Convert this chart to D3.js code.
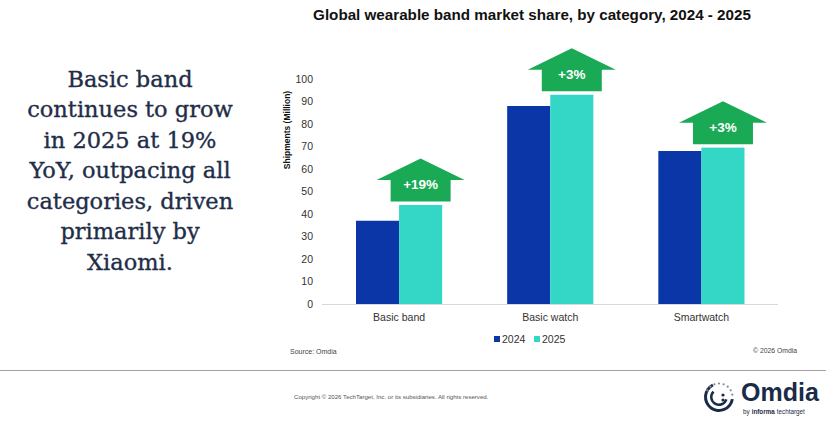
<!DOCTYPE html>
<html><head><meta charset="utf-8">
<script src="https://cdn.jsdelivr.net/npm/d3@7/dist/d3.min.js"></script>
<style>
html,body{margin:0;padding:0;background:#fff;}
svg{display:block;}
</style></head>
<body>
<script>
const categories = ["Basic band", "Basic watch", "Smartwatch"];
const series = ["2024", "2025"];
const values2024 = [37, 88, 68];
const values2025 = [44, 93, 69.5];
const growthLabels = ["+19%", "+3%", "+3%"];
const yTicks = [0, 10, 20, 30, 40, 50, 60, 70, 80, 90, 100];
const sideText = ["Basic band", "continues to grow", "in 2025 at 19%", "YoY, outpacing all", "categories, driven", "primarily by", "Xiaomi."];

const W = 835, H = 426;
const colors = {"2024": "#0a36a8", "2025": "#34d6c6"};
const green = "#1aa955";
const sans = "Liberation Sans, Arial, sans-serif";

const svg = d3.select("body").append("svg").attr("width", W).attr("height", H);

// Title
svg.append("text").attr("x", 532).attr("y", 20).attr("text-anchor", "middle")
  .attr("font-family", sans).attr("font-weight", "bold")
  .attr("font-size", 15.2).attr("fill", "#111")
  .text("Global wearable band market share, by category, 2024 - 2025");

// Side text
const st = svg.append("text").attr("font-family", "DejaVu Serif, serif").attr("font-size", 22.5)
  .attr("fill", "#1f2e48").attr("stroke", "#1f2e48").attr("stroke-width", 0.35).attr("text-anchor", "middle");
sideText.forEach((t, i) => {
  st.append("tspan").attr("x", 130).attr("y", 86.5 + i * 30.5).text(t);
});

// Scales
const x = d3.scaleBand().domain(categories).range([323.5, 777]).paddingInner(0.43).paddingOuter(0.215);
const xs = d3.scaleBand().domain(series).range([0, x.bandwidth()]);
const y = d3.scaleLinear().domain([0, 100]).range([304, 79]);

// Y axis ticks
const yAxis = d3.axisLeft(y).tickValues(yTicks).tickSize(0).tickPadding(0);
const gy = svg.append("g").attr("transform", "translate(313,0)").call(yAxis);
gy.select(".domain").remove();
gy.selectAll("text").attr("font-family", sans).attr("font-size", 10.5).attr("fill", "#333");

// Y title
svg.append("text").attr("transform", "translate(290,130) rotate(-90)").attr("text-anchor", "middle")
  .attr("font-family", sans).attr("font-weight", "bold")
  .attr("font-size", 8.5).attr("fill", "#111").text("Shipments (Million)");

// Baseline
svg.append("line").attr("x1", 322).attr("x2", 778).attr("y1", y(0) + 0.5).attr("y2", y(0) + 0.5)
  .attr("stroke", "#d9d9d9").attr("stroke-width", 1);

// Bars
const data = categories.map((c, i) => ({cat: c, vals: [{s: "2024", v: values2024[i]}, {s: "2025", v: values2025[i]}], g: growthLabels[i]}));
const groups = svg.append("g").selectAll("g").data(data).join("g")
  .attr("transform", d => `translate(${x(d.cat)},0)`);
groups.selectAll("rect").data(d => d.vals).join("rect")
  .attr("x", d => xs(d.s)).attr("width", xs.bandwidth())
  .attr("y", d => y(d.v)).attr("height", d => y(0) - y(d.v))
  .attr("fill", d => colors[d.s]);

// X axis labels
const xAxis = d3.axisBottom(x).tickSize(0).tickPadding(0);
const gx = svg.append("g").attr("transform", `translate(0,${y(0) + 9.5})`).call(xAxis);
gx.select(".domain").remove();
gx.selectAll("text").attr("font-family", sans).attr("font-size", 10.5).attr("fill", "#333");

// Growth arrows
const headW = 88, shaftW = 60, headH = 21.5, shaftH = 21.5, gap = 3.5;
data.forEach(d => {
  const v = d.vals[1].v;
  const cx = x(d.cat) + xs("2025") + xs.bandwidth() / 2;
  const bottom = y(v) - gap;
  const top = bottom - shaftH - headH;
  const hb = bottom - shaftH;
  const pts = [[cx, top], [cx + headW / 2, hb], [cx + shaftW / 2, hb], [cx + shaftW / 2, bottom],
    [cx - shaftW / 2, bottom], [cx - shaftW / 2, hb], [cx - headW / 2, hb]];
  svg.append("path").attr("d", d3.line()(pts) + "Z").attr("fill", green);
  svg.append("text").attr("x", cx).attr("y", hb + 9).attr("text-anchor", "middle")
    .attr("font-family", sans).attr("font-weight", "bold")
    .attr("font-size", 13.5).attr("fill", "#fff").text(d.g);
});

// Legend
const leg = svg.append("g").attr("font-family", sans).attr("font-size", 10.5).attr("fill", "#333");
[[494, "2024"], [534, "2025"]].forEach(([lx, s]) => {
  leg.append("rect").attr("x", lx).attr("y", 336).attr("width", 6).attr("height", 6).attr("fill", colors[s]);
  leg.append("text").attr("x", lx + 8).attr("y", 343).text(s);
});

// Source / copyright
svg.append("text").attr("x", 290).attr("y", 354).attr("font-family", sans)
  .attr("font-size", 7).attr("fill", "#444").text("Source: Omdia");
svg.append("text").attr("x", 797).attr("y", 353).attr("text-anchor", "end").attr("font-family", sans)
  .attr("font-size", 6.8).attr("fill", "#444").text("© 2026 Omdia");

svg.append("line").attr("x1", 0).attr("x2", 826).attr("y1", 370.5).attr("y2", 370.5).attr("stroke", "#a0a0a0").attr("stroke-width", 1);

svg.append("text").attr("x", 294).attr("y", 399).attr("font-family", sans)
  .attr("font-size", 6.1).attr("fill", "#555")
  .text("Copyright © 2026 TechTarget, Inc. or its subsidiaries. All rights reserved.");

// Omdia logo
const logo = svg.append("g").attr("transform", "translate(719,397)");
const navy = "#1a2b49";
logo.append("path").attr("d", d3.arc()({innerRadius: 12, outerRadius: 15, startAngle: Math.PI * 0.55, endAngle: Math.PI * 1.85})).attr("fill", navy);
logo.append("path").attr("d", d3.arc()({innerRadius: 6.5, outerRadius: 9, startAngle: Math.PI * 0.6, endAngle: Math.PI * 1.75})).attr("fill", navy);
for (let i = 0; i < 8; i++) {
  const a = -Math.PI * 0.5 + (i - 3) * 0.35;
  logo.append("circle").attr("cx", Math.cos(a) * 13.5).attr("cy", Math.sin(a) * 13.5).attr("r", 1.1).attr("fill", "#7f8aa0");
}
logo.append("circle").attr("cx", 4).attr("cy", -2).attr("r", 1.6).attr("fill", navy);
logo.append("circle").attr("cx", 4).attr("cy", 3).attr("r", 1.6).attr("fill", navy);

svg.append("text").attr("x", 741).attr("y", 401).attr("font-family", sans)
  .attr("font-weight", "bold").attr("font-size", 25).attr("fill", navy).text("Omdia");
// "by informa techtarget" as sequential pieces
let sx = 743;
[["by", "normal"], ["informa", "bold"], ["techtarget", "normal"]].forEach(([t, w]) => {
  const el = svg.append("text").attr("x", sx).attr("y", 413.5).attr("font-family", sans)
    .attr("font-size", 6.3).attr("font-weight", w).attr("fill", navy).text(t);
  sx += el.node().getComputedTextLength() + 2;
});
</script>
</body></html>
